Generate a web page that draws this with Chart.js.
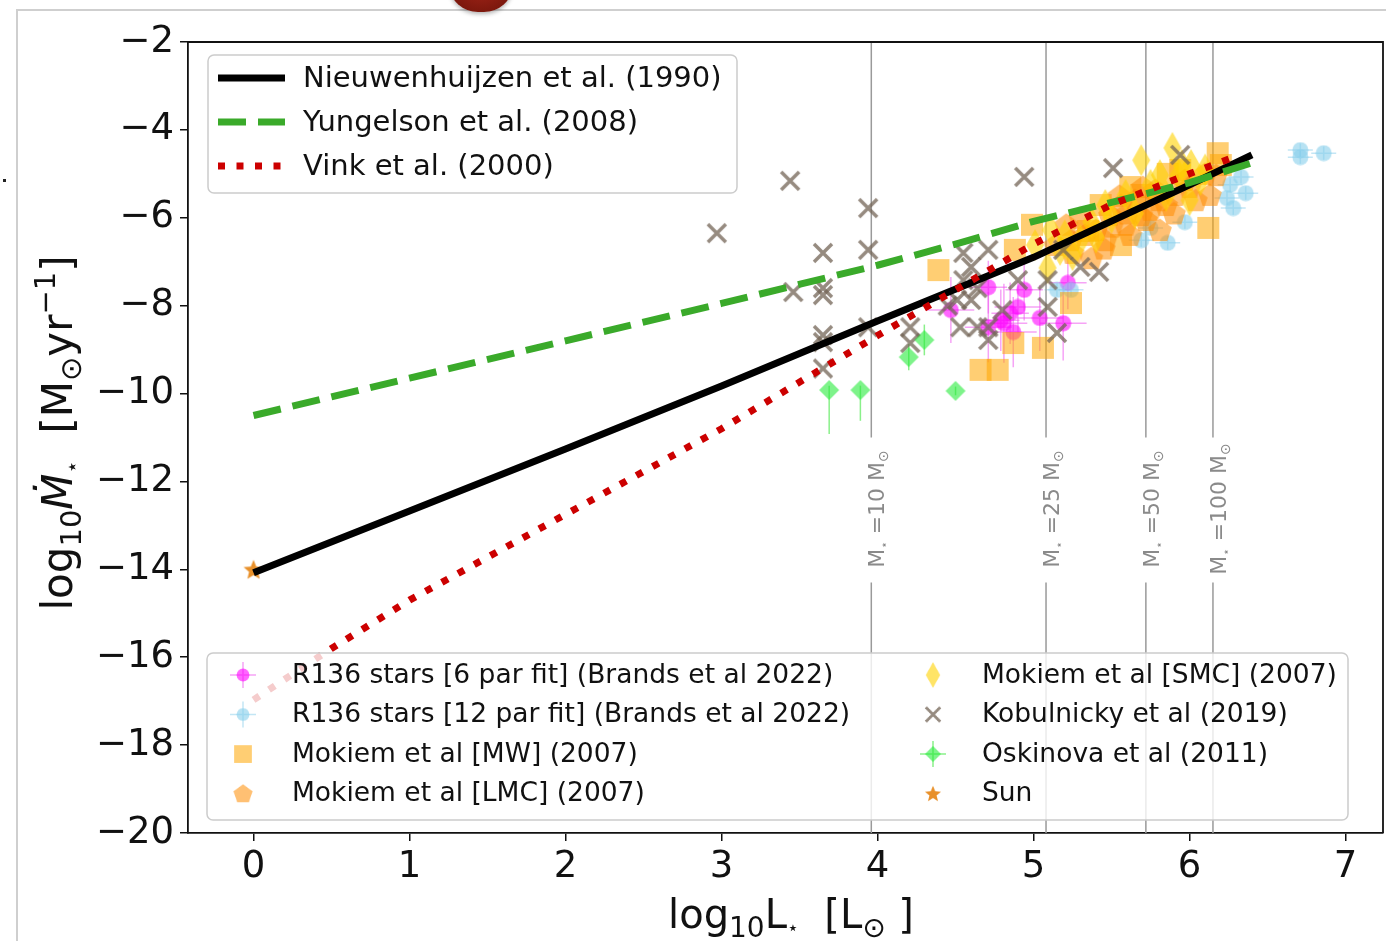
<!DOCTYPE html>
<html>
<head>
<meta charset="utf-8">
<script src="https://cdn.jsdelivr.net/npm/chart.js@4.4.1/dist/chart.umd.min.js"></script>
<style>
  body { margin: 0; background: #fff; }
  #wrap { position: relative; width: 1386px; height: 941px; overflow: hidden; background: #fff; }
  #frame { position: absolute; left: 16px; top: 9px; right: -4px; bottom: -4px; border-top: 2px solid #cfcfcf; border-left: 2px solid #cfcfcf; }
  #blob { position: absolute; left: 450px; top: -44px; width: 62px; height: 56px; border-radius: 45%; background: radial-gradient(circle at 50% 40%, #b0281c, #6a1208); box-shadow: 0 2px 4px rgba(0,0,0,0.3); }
  #dot { position: absolute; left: 3px; top: 179px; width: 3px; height: 3px; background: #222; }
  canvas { position: absolute; left: 0; top: 0; }
</style>
</head>
<body>
<div id="wrap">
  <div id="frame"></div>
  <div id="blob"></div>
  <div id="dot"></div>
  <canvas id="chart" width="1392" height="941"></canvas>
</div>
<script>
// AXES
const xTicks = [0, 1, 2, 3, 4, 5, 6, 7];
const yTicks = [-2, -4, -6, -8, -10, -12, -14, -16, -18, -20];

// FIT LINES (log L, log Mdot)
const nieuwL = [0, 1, 2, 3, 4, 5, 6, 6.4];
const nieuwM = [-14.08, -12.67, -11.26, -9.83, -8.35, -6.9, -5.25, -4.57];
const yungL = [0, 1, 2, 3, 4, 4.5, 5, 5.5, 6, 6.4];
const yungM = [-10.5, -9.65, -8.8, -7.95, -7.08, -6.6, -6.08, -5.65, -5.2, -4.75];
const vinkL = [0, 0.5, 1, 2, 3, 4, 5, 5.5, 6, 6.3];
const vinkM = [-16.97, -15.8, -14.7, -12.75, -10.8, -8.68, -6.6, -5.7, -5.0, -4.6];

// MASS MARKERS
const massL = [3.96, 5.08, 5.72, 6.15];
const massLabels = ["10", "25", "50", "100"];

// R136 6 par fit
const r136aL = [4.47, 4.71, 4.71, 4.79, 4.81, 4.85, 4.87, 4.90, 4.94, 5.04, 5.19, 5.22];
const r136aM = [-8.10, -7.58, -8.49, -8.33, -8.40, -8.17, -8.60, -8.03, -7.64, -8.28, -8.40, -7.48];
const r136aErrL = [0.15, 0.12, 0.15, 0.12, 0.15, 0.12, 0.15, 0.15, 0.12, 0.15, 0.15, 0.12];
const r136aErrM = [0.75, 0.6, 0.8, 0.7, 0.9, 0.7, 0.8, 0.6, 0.7, 0.75, 0.85, 0.6];

// R136 12 par fit
const r136bL = [6.71, 6.71, 6.86, 6.33, 6.26, 6.36, 6.28, 6.24, 5.97, 5.86, 5.75, 5.69, 5.15, 5.24];
const r136bM = [-4.46, -4.62, -4.53, -5.07, -5.25, -5.44, -5.78, -5.55, -6.10, -6.57, -6.23, -6.51, -7.64, -7.64];

// Mokiem MW
const mwL = [4.39, 4.88, 4.87, 5.06, 4.66, 4.77, 5.24, 4.99, 6.12, 6.18, 5.43, 5.69, 5.94, 5.56, 5.35, 5.62, 5.86, 6.20];
const mwM = [-7.19, -6.73, -8.85, -8.96, -9.46, -9.46, -7.94, -6.16, -6.23, -4.53, -5.71, -5.48, -4.91, -6.62, -6.30, -5.30, -5.00, -4.80];

// Mokiem LMC
const lmcL = [5.14, 5.24, 5.33, 5.40, 5.49, 5.56, 5.59, 5.65, 5.69, 5.75, 5.78, 5.85, 5.91, 5.97, 6.04, 6.13, 6.17, 5.81, 5.46, 5.62, 5.37, 5.21,
  5.30, 5.50, 5.60, 5.70, 5.80, 5.90, 6.00, 6.10, 5.45, 5.25, 5.55, 5.72];
const lmcM = [-6.62, -6.51, -6.39, -6.28, -5.94, -5.71, -6.16, -5.60, -5.94, -5.82, -5.37, -5.71, -5.48, -5.14, -5.60, -5.48, -5.03, -6.28, -6.51, -6.39, -6.92, -6.16,
  -6.00, -6.20, -5.90, -5.30, -5.60, -5.90, -5.30, -5.00, -6.70, -6.80, -5.50, -6.05];

// Mokiem SMC
const smcL = [5.01, 5.11, 5.17, 5.25, 5.30, 5.37, 5.46, 5.59, 5.69, 5.75, 5.81, 5.89, 5.93, 6.01, 6.07, 5.09,
  5.20, 5.50, 5.65, 5.85, 6.00, 5.40, 5.95, 6.10];
const smcM = [-6.62, -6.28, -6.73, -6.85, -6.51, -6.10, -5.71, -5.48, -4.69, -5.25, -5.03, -4.41, -5.03, -4.80, -5.14, -7.14,
  -6.40, -6.00, -5.90, -5.50, -5.60, -6.45, -4.80, -4.90];

// Kobulnicky
const kobL = [2.97, 3.44, 3.94, 3.94, 3.65, 3.65, 3.65, 3.46, 3.65, 3.65, 3.65, 3.94, 4.21, 4.21, 4.55, 4.71, 4.60, 4.55, 4.64, 4.51, 4.60, 4.53, 4.64, 4.71, 4.71, 4.90, 5.09, 5.09, 5.15, 5.30, 5.42, 4.94, 5.51, 5.94, 4.45, 4.80, 5.19];
const kobM = [-6.35, -5.16, -5.78, -6.73, -6.80, -7.60, -7.76, -7.69, -8.67, -8.83, -9.43, -8.49, -8.49, -8.85, -6.80, -6.73, -7.12, -7.42, -7.60, -7.87, -7.87, -8.49, -8.49, -8.49, -8.78, -7.42, -7.42, -8.03, -8.62, -7.12, -7.23, -5.07, -4.87, -4.57, -8.00, -8.10, -6.73];

// Oskinova
const oskL = [3.69, 3.89, 4.20, 4.30, 4.50];
const oskM = [-9.92, -9.92, -9.17, -8.78, -9.94];
const oskErrLo = [1.0, 0.7, 0.3, 0.35, 0.1];
const oskErrHi = [0.1, 0.1, 0.3, 0.35, 0.1];

// Sun
const sunL = [0];
const sunM = [-14.0];

const FONT = '"DejaVu Sans", sans-serif';

function pts(L, M) {
  return L.map((x, i) => ({ x: x, y: M[i] }));
}

// MARKERS (little canvases used as point styles)
function mk(w, h, draw) {
  let c = document.createElement("canvas");
  c.width = w;
  c.height = h;
  draw(c.getContext("2d"), w, h);
  return c;
}

function poly(g, cx, cy, r, n, rot, inner) {
  g.beginPath();
  let k = inner ? n * 2 : n;
  for (let i = 0; i < k; i++) {
    let a = rot + i * Math.PI * 2 / k;
    let rr = inner && i % 2 ? r * inner : r;
    let px = cx + rr * Math.cos(a), py = cy + rr * Math.sin(a);
    if (i === 0) g.moveTo(px, py); else g.lineTo(px, py);
  }
  g.closePath();
}

const mCircleMag = mk(17, 17, (g) => { g.fillStyle = "rgba(255,0,255,0.6)"; g.beginPath(); g.arc(8.5, 8.5, 8, 0, Math.PI * 2); g.fill(); });
const mCircleBlue = mk(17, 17, (g) => { g.fillStyle = "rgba(135,206,235,0.6)"; g.beginPath(); g.arc(8.5, 8.5, 8, 0, Math.PI * 2); g.fill(); });
const mSquare = mk(24, 24, (g) => { g.fillStyle = "rgba(255,165,0,0.55)"; g.fillRect(1, 1, 22, 22); });
const mPent = mk(26, 26, (g) => { g.fillStyle = "rgba(255,140,0,0.55)"; poly(g, 13, 14, 12.5, 5, -Math.PI / 2); g.fill(); });
const mThinDia = mk(20, 34, (g) => {
  g.fillStyle = "rgba(255,210,0,0.6)";
  g.beginPath(); g.moveTo(10, 1); g.lineTo(19, 17); g.lineTo(10, 33); g.lineTo(1, 17); g.closePath(); g.fill();
});
const mCross = mk(24, 24, (g) => {
  g.strokeStyle = "rgba(115,100,85,0.75)"; g.lineWidth = 3.5;
  g.beginPath(); g.moveTo(3, 3); g.lineTo(21, 21); g.moveTo(21, 3); g.lineTo(3, 21); g.stroke();
});
const mDia = mk(22, 22, (g) => {
  g.fillStyle = "rgba(40,235,60,0.6)";
  g.beginPath(); g.moveTo(11, 1); g.lineTo(21, 11); g.lineTo(11, 21); g.lineTo(1, 11); g.closePath(); g.fill();
});
const mStar = mk(22, 22, (g) => { g.fillStyle = "#e8902a"; poly(g, 11, 12, 10.5, 5, -Math.PI / 2, 0.45); g.fill(); });

function scatterSet(label, L, M, img, order, err) {
  return { label: label, data: pts(L, M), pointStyle: img, pointRadius: 8, showLine: false, order: order, err: err };
}

function lineSet(label, L, M, color, width, dash, order) {
  return {
    label: label, data: pts(L, M), showLine: true, pointRadius: 0, borderColor: color,
    borderWidth: width, borderDash: dash, borderCapStyle: "butt", order: order, fill: false
  };
}

const GAP_TOP = -11.0, GAP_BOTTOM = -14.3;
const massSets = massL.flatMap((L) => [
  lineSet("", [L, L], [-2, GAP_TOP], "#9a9a9a", 1.5, [], 30),
  lineSet("", [L, L], [GAP_BOTTOM, -20], "#9a9a9a", 1.5, [], 30)
]);

const nieuwSet = lineSet("Nieuwenhuijzen et al. (1990)", nieuwL, nieuwM, "#000000", 7, [], 3);
const yungSet = lineSet("Yungelson et al. (2008)", yungL, yungM, "#3aaa2a", 7, [28, 12], 2);
const vinkSet = lineSet("Vink et al. (2000)", vinkL, vinkM, "#cc0000", 7, [7, 11.5], 1);

const r136aSet = scatterSet("R136 stars [6 par fit] (Brands et al 2022)", r136aL, r136aM, mCircleMag, 20,
  { dx: r136aErrL, lo: r136aErrM, hi: r136aErrM, color: "rgba(238,90,238,0.55)" });
const r136bSet = scatterSet("R136 stars [12 par fit] (Brands et al 2022)", r136bL, r136bM, mCircleBlue, 19,
  { dx: r136bL.map(() => 0.08), lo: r136bL.map(() => 0.15), hi: r136bL.map(() => 0.15), color: "rgba(135,206,235,0.5)" });
const mwSet = scatterSet("Mokiem et al [MW] (2007)", mwL, mwM, mSquare, 18);
const lmcSet = scatterSet("Mokiem et al [LMC] (2007)", lmcL, lmcM, mPent, 17);
const smcSet = scatterSet("Mokiem et al [SMC] (2007)", smcL, smcM, mThinDia, 16);
const kobSet = scatterSet("Kobulnicky et al (2019)", kobL, kobM, mCross, 15);
const oskSet = scatterSet("Oskinova et al (2011)", oskL, oskM, mDia, 14,
  { dx: oskL.map(() => 0), lo: oskErrLo, hi: oskErrHi, color: "rgba(60,230,60,0.6)" });
const sunSet = scatterSet("Sun", sunL, sunM, mStar, 13);

function fmt(v) {
  return v < 0 ? "\u2212" + Math.abs(v) : String(v);
}

// rich text with sub/superscripts
function rich(ctx, parts, x, y, rot, color) {
  ctx.save();
  ctx.translate(x, y);
  ctx.rotate(rot);
  ctx.fillStyle = color;
  ctx.textBaseline = "alphabetic";
  ctx.textAlign = "left";
  let w = 0;
  parts.forEach((p) => { ctx.font = (p.it ? "italic " : "") + p.s + "px " + FONT; w += ctx.measureText(p.t).width; });
  let cx = -w / 2;
  parts.forEach((p) => {
    ctx.font = (p.it ? "italic " : "") + p.s + "px " + FONT;
    ctx.fillText(p.t, cx, p.dy || 0);
    cx += ctx.measureText(p.t).width;
  });
  ctx.restore();
}

function roundBox(ctx, x0, y0, x1, y1) {
  ctx.save();
  ctx.beginPath();
  ctx.roundRect(x0, y0, x1 - x0, y1 - y0, 6);
  ctx.fillStyle = "rgba(255,255,255,0.8)";
  ctx.fill();
  ctx.strokeStyle = "#cccccc";
  ctx.lineWidth = 1.5;
  ctx.stroke();
  ctx.restore();
}

// ERROR BARS
const errorBars = {
  id: "errorBars",
  beforeDatasetsDraw(chart) {
    let ctx = chart.ctx, xs = chart.scales.x, ys = chart.scales.y;
    ctx.save();
    chart.data.datasets.forEach((ds) => {
      if (!ds.err) return;
      ctx.strokeStyle = ds.err.color;
      ctx.lineWidth = 1.5;
      ds.data.forEach((p, i) => {
        let px = xs.getPixelForValue(p.x), py = ys.getPixelForValue(p.y);
        ctx.beginPath();
        ctx.moveTo(px, ys.getPixelForValue(p.y - ds.err.lo[i]));
        ctx.lineTo(px, ys.getPixelForValue(p.y + ds.err.hi[i]));
        if (ds.err.dx[i]) {
          ctx.moveTo(xs.getPixelForValue(p.x - ds.err.dx[i]), py);
          ctx.lineTo(xs.getPixelForValue(p.x + ds.err.dx[i]), py);
        }
        ctx.stroke();
      });
    });
    ctx.restore();
  }
};

// TITLES, MASS LABELS, SPINES, LEGENDS
const decor = {
  id: "decor",
  afterDraw(chart) {
    let ctx = chart.ctx, a = chart.chartArea, xs = chart.scales.x;

    // mass labels
    massL.forEach((L, i) => {
      let px = xs.getPixelForValue(L);
      rich(ctx, [
        { t: "M", s: 22 }, { t: "\u22C6", s: 12, dy: 4 }, { t: " =" + massLabels[i] + " M", s: 22 }, { t: "\u2299", s: 14, dy: 4 }
      ], px + 13, 509, -Math.PI / 2, "#8a8a8a");
    });

    // top and right spines
    ctx.save();
    ctx.strokeStyle = "#111";
    ctx.lineWidth = 1.8;
    ctx.beginPath();
    ctx.moveTo(a.left, a.top); ctx.lineTo(a.right, a.top); ctx.lineTo(a.right, a.bottom);
    ctx.stroke();
    ctx.restore();

    // axis titles
    rich(ctx, [
      { t: "log", s: 40 }, { t: "10", s: 28, dy: 9 }, { t: "L", s: 40 }, { t: "\u22C6", s: 19, dy: 6 },
      { t: "  [L", s: 40 }, { t: "\u2299", s: 28, dy: 9 }, { t: " ]", s: 40 }
    ], 791, 928, 0, "#111");
    rich(ctx, [
      { t: "log", s: 42 }, { t: "10", s: 29, dy: 9 }, { t: "\u1E40", s: 42, it: true }, { t: "\u22C6", s: 21, dy: 7 },
      { t: "  [M", s: 42 }, { t: "\u2299", s: 29, dy: 9 }, { t: "yr", s: 42 }, { t: "\u22121", s: 29, dy: -17 }, { t: "]", s: 42 }
    ], 72, 433, -Math.PI / 2, "#111");

    // legend 1: fit lines
    roundBox(ctx, 208, 55, 737, 193);
    [nieuwSet, yungSet, vinkSet].forEach((ds, i) => {
      let y = 78 + i * 44;
      ctx.save();
      ctx.strokeStyle = ds.borderColor;
      ctx.lineWidth = ds.borderWidth;
      ctx.setLineDash(ds.borderDash);
      ctx.beginPath(); ctx.moveTo(218, y); ctx.lineTo(285, y); ctx.stroke();
      ctx.restore();
      ctx.fillStyle = "#111";
      ctx.font = "29px " + FONT;
      ctx.textBaseline = "middle";
      ctx.textAlign = "left";
      ctx.fillText(ds.label, 303, y + 1);
    });

    // legend 2: data sets
    roundBox(ctx, 207, 653, 1348, 820);
    let items = [r136aSet, r136bSet, mwSet, lmcSet, smcSet, kobSet, oskSet, sunSet];
    items.forEach((ds, i) => {
      let col = Math.floor(i / 4), row = i % 4;
      let mx = col ? 933 : 243, tx = col ? 982 : 292, y = 675 + row * 39.5;
      if (ds.err) {
        ctx.save();
        ctx.strokeStyle = ds.err.color; ctx.lineWidth = 1.5;
        ctx.beginPath(); ctx.moveTo(mx - 13, y); ctx.lineTo(mx + 13, y); ctx.moveTo(mx, y - 13); ctx.lineTo(mx, y + 13); ctx.stroke();
        ctx.restore();
      }
      let img = ds.pointStyle, sc = 0.8;
      ctx.drawImage(img, mx - img.width * sc / 2, y - img.height * sc / 2, img.width * sc, img.height * sc);
      ctx.fillStyle = "#111";
      ctx.font = "26.5px " + FONT;
      ctx.textBaseline = "middle";
      ctx.textAlign = "left";
      ctx.fillText(ds.label, tx, y + 1);
    });
  }
};

new Chart(document.getElementById("chart"), {
  type: "scatter",
  data: {
    datasets: [...massSets, nieuwSet, yungSet, vinkSet, r136aSet, r136bSet, mwSet, lmcSet, smcSet, kobSet, oskSet, sunSet]
  },
  options: {
    responsive: false,
    animation: false,
    devicePixelRatio: 1,
    layout: { padding: { top: 42, right: 3, left: 0, bottom: 0 } },
    plugins: { legend: { display: false }, tooltip: { enabled: false } },
    scales: {
      x: {
        type: "linear", min: -0.42, max: 7.24,
        afterBuildTicks: (s) => { s.ticks = xTicks.map((v) => ({ value: v })); },
        afterFit: (s) => { s.height = 108; },
        ticks: { font: { family: FONT, size: 37 }, color: "#111", padding: 4, maxRotation: 0, callback: (v) => fmt(v) },
        grid: { drawOnChartArea: false, drawTicks: true, tickLength: 8, color: "#111", lineWidth: 1.5 },
        border: { color: "#111", width: 1.8 }
      },
      y: {
        type: "linear", min: -20, max: -2,
        afterBuildTicks: (s) => { s.ticks = yTicks.map((v) => ({ value: v })); },
        afterFit: (s) => { s.width = 188; },
        ticks: { font: { family: FONT, size: 37 }, color: "#111", padding: 6, callback: (v) => fmt(v) },
        grid: { drawOnChartArea: false, drawTicks: true, tickLength: 8, color: "#111", lineWidth: 1.5 },
        border: { color: "#111", width: 1.8 }
      }
    }
  },
  plugins: [errorBars, decor]
});
</script>
</body>
</html>
